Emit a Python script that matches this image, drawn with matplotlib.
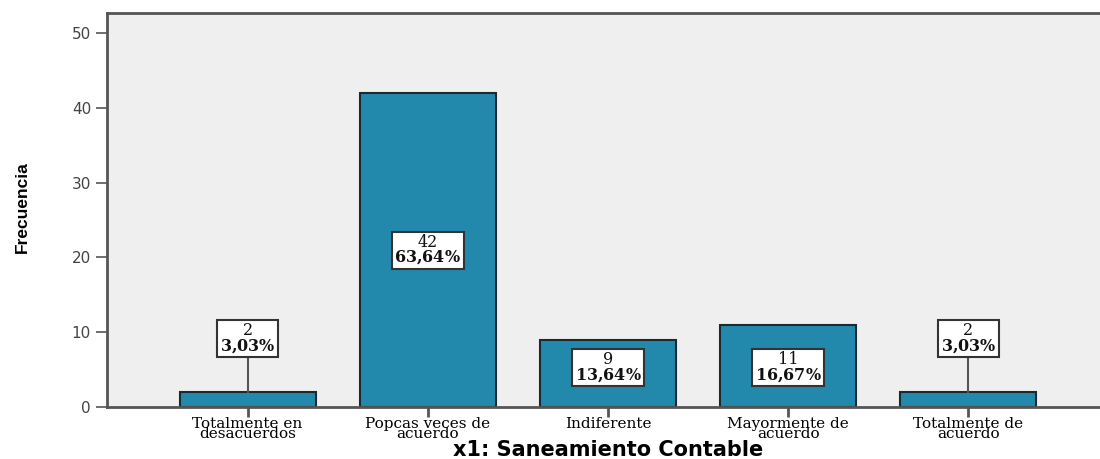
import matplotlib.pyplot as plt

# data
categories = ["Totalmente en\ndesacuerdos", "Popcas veces de\nacuerdo", "Indiferente",
              "Mayormente de\nacuerdo", "Totalmente de\nacuerdo"]
counts = [2, 42, 9, 11, 2]
percents = ["3,03%", "63,64%", "13,64%", "16,67%", "3,03%"]

bar_color = "#2389ac"
bg = "#efefef"

plt.rcParams["mathtext.fontset"] = "dejavuserif"

fig = plt.figure(figsize=(11, 4.59), dpi=100)
ax = fig.add_axes([107 / 1100, 1 - 407 / 459, 993 / 1100, 394 / 459])
ax.set_facecolor(bg)

x = list(range(len(categories)))
ax.bar(x, counts, width=0.755, color=bar_color, edgecolor="#1a2a30", linewidth=1.5, zorder=2)

ax.set_xlim(-0.78, 4.73)
ax.set_ylim(0, 52.7)
ax.set_yticks([0, 10, 20, 30, 40, 50])
ax.set_xticks(x)
ax.set_xticklabels(categories, family="DejaVu Serif", fontsize=11, linespacing=0.7)
ax.tick_params(axis="y", labelsize=11, labelcolor="#444444", length=8, width=1.2,
               color="#555555")
ax.tick_params(axis="x", length=7, width=2, color="#555555", pad=0)

ax.spines["right"].set_visible(False)
for side in ["left", "top", "bottom"]:
    ax.spines[side].set_color("#555555")
    ax.spines[side].set_linewidth(2)

# value labels: count in normal weight, percent in bold (mathtext), one boxed text
for xi, c, p in zip(x, counts, percents):
    if c < 5:
        ly = 9.2
        ax.plot([xi, xi], [c, ly - 1.5], color="#555555", lw=1.5, zorder=3)
    else:
        ly = c / 2 if c > 20 else 5.3
    pct = p.replace(",", "{,}").replace("%", r"\%")
    ax.text(xi, ly, f"{c}\n" + r"$\mathbf{" + pct + "}$", ha="center", va="center",
            fontsize=11.5, family="DejaVu Serif", linespacing=0.85, zorder=4,
            color="#111111",
            bbox=dict(boxstyle="square,pad=0.15", fc="white", ec="#333333", lw=1.5))

fig.text(608 / 1100, 1 - 450 / 459, "x1: Saneamiento Contable", ha="center", va="center",
         fontsize=15, fontweight="bold", family="DejaVu Sans")
fig.text(22 / 1100, 1 - 207 / 459, "Frecuencia", ha="center", va="center", rotation=90,
         fontsize=12.5, fontweight="bold", family="Liberation Sans")

fig.savefig("out.png", dpi=100)
